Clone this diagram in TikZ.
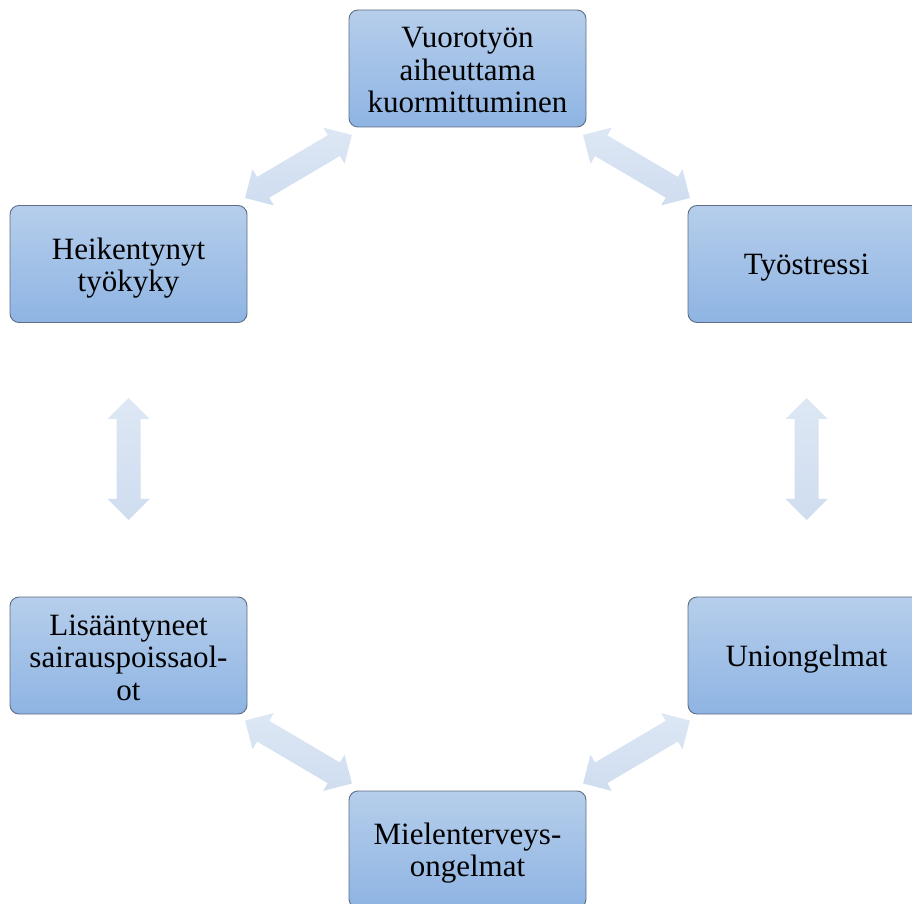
\documentclass[tikz,border=0pt]{standalone}
\usepackage{fontspec}
\setmainfont{Liberation Serif}
\definecolor{boxtop}{HTML}{B6CEEB}
\definecolor{boxbot}{HTML}{8EB4E3}
\definecolor{boxline}{HTML}{5E6E84}
\definecolor{arrlight}{HTML}{DDE7F4}
\definecolor{arrdark}{HTML}{CFDDF0}
\tikzset{
  stagebox/.style={draw=boxline, line width=0.9pt, rounded corners=9pt,
    top color=boxtop, bottom color=boxbot, minimum width=237pt, minimum height=117pt,
    inner sep=0pt},
  stagetext/.style={text width=225pt, align=center, inner sep=0pt,
    font=\fontsize{31}{32.5}\selectfont},
  blockarr/.style={top color=arrlight, bottom color=arrdark, draw=none}
}
\newcommand{\dblblock}[4]{% x, y, angle, length
  \begin{scope}[shift={(#1,#2)}, rotate=#3]
    \pgfmathsetmacro{\hl}{#4/2}
    \path[blockarr] (-\hl,0) -- (-\hl+21,21) -- (-\hl+21,12) -- (\hl-21,12) -- (\hl-21,21)
      -- (\hl,0) -- (\hl-21,-21) -- (\hl-21,-12) -- (-\hl+21,-12) -- (-\hl+21,-21) -- cycle;
  \end{scope}}
\begin{document}
\begin{tikzpicture}[x=1pt,y=1pt]
\useasboundingbox (0,0) rectangle (912,903);
\clip (0,0) rectangle (912,903);
\fill[white] (0,0) rectangle (912,903);
% block arrows
\dblblock{298.5}{736.5}{30.5}{124}
\dblblock{636.5}{736.5}{-30.5}{124}
\dblblock{128.5}{444}{90}{122}
\dblblock{806.5}{444}{90}{122}
\dblblock{298.5}{151}{-30.5}{124}
\dblblock{636.5}{151}{30.5}{124}
% boxes
\node[stagebox] (top) at (467.5,834.5) {};
\node[stagebox] (ul) at (128.5,639) {};
\node[stagebox] (ur) at (806.5,639) {};
\node[stagebox] (ll) at (128.5,247.5) {};
\node[stagebox] (lr) at (806.5,247.5) {};
\node[stagebox] (bot) at (467.5,53.5) {};
% texts
\node[stagetext] (topt) at ([yshift=-2pt]top.center) {Vuorotyön\\aiheuttama\\kuormittuminen};
\node[stagetext] (ult) at ([yshift=-4pt]ul.center) {Heikentynyt\\työkyky};
\node[stagetext] (urt) at ([yshift=-4pt]ur.center) {Työstressi};
\node[stagetext] (llt) at ([yshift=-2pt]ll.center) {Lisääntyneet\\sairauspoissaol-\\ot};
\node[stagetext] (lrt) at ([yshift=-4pt]lr.center) {Uniongelmat};
\node[stagetext] (bott) at ([yshift=-3.5pt]bot.center) {Mielenterveys-\\ongelmat};
\end{tikzpicture}
\end{document}
